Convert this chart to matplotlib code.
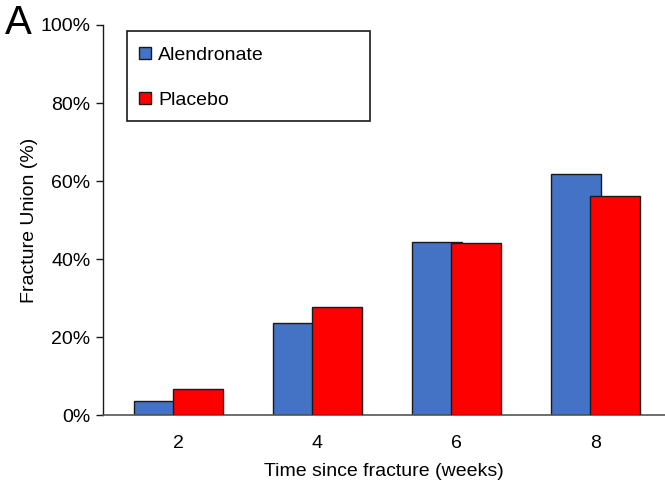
import matplotlib
matplotlib.use("Agg")
import matplotlib.pyplot as plt
from matplotlib.patches import Patch, Rectangle
import numpy as np

plt.rcParams['font.family'] = ['Liberation Sans', 'DejaVu Sans']

categories = ["2", "4", "6", "8"]
alendronate = [3.6, 23.7, 44.4, 61.9]
placebo = [6.6, 27.8, 44.0, 56.2]
series_names = ["Alendronate", "Placebo"]
yticks = [0, 20, 40, 60, 80, 100]
ytick_labels = ["0%", "20%", "40%", "60%", "80%", "100%"]

blue = "#4472C4"
red = "#FF0000"

fig = plt.figure(figsize=(6.65, 4.8), dpi=100)
ax = fig.add_axes([0.155, 0.135, 0.845, 0.813])

x = np.arange(len(categories))
w = 0.36
off = 0.14
ax.bar(x - off, alendronate, width=w, color=blue, edgecolor="#1a1a1a", linewidth=1.0, zorder=2)
ax.bar(x + off, placebo, width=w, color=red, edgecolor="#1a1a1a", linewidth=1.0, zorder=3)

ax.set_xlim(-0.54, 3.5)
ax.set_ylim(0, 100)
ax.set_yticks(yticks)
ax.set_yticklabels(ytick_labels, fontsize=14)
ax.set_xticks(x)
ax.set_xticklabels(categories, fontsize=14)
ax.tick_params(axis='x', length=0, pad=14)
ax.tick_params(axis='y', length=5, width=1, direction='out', pad=4, color="#1a1a1a")
for s in ['top', 'right']:
    ax.spines[s].set_visible(False)
ax.spines['left'].set_color("#1a1a1a")
ax.spines['bottom'].set_color("#555555")
ax.spines['left'].set_linewidth(1)
ax.spines['bottom'].set_linewidth(1.2)

ax.set_xlabel("Time since fracture (weeks)", fontsize=14, labelpad=8)
ax.set_ylabel("Fracture Union (%)", fontsize=14, labelpad=2)

# legend frame
fig.patches.append(Rectangle((127/665, 1 - 121/480), 243/665, 90/480,
                             transform=fig.transFigure, facecolor='white',
                             edgecolor='#1a1a1a', linewidth=1.2, zorder=5))
handles = [Patch(facecolor=blue, edgecolor="#1a1a1a", linewidth=1),
           Patch(facecolor=red, edgecolor="#1a1a1a", linewidth=1)]
leg = fig.legend(handles, series_names, loc='upper left',
                 bbox_to_anchor=(139/665, 1 - 47/480),
                 fontsize=14, frameon=False,
                 handlelength=0.6, handleheight=0.6,
                 handletextpad=0.4, labelspacing=1.42, borderpad=0,
                 borderaxespad=0)
leg.set_zorder(6)

fig.text(5/665, 1 - 34/480, "A", fontsize=29, ha='left', va='baseline')

fig.savefig("out.png", dpi=100)
